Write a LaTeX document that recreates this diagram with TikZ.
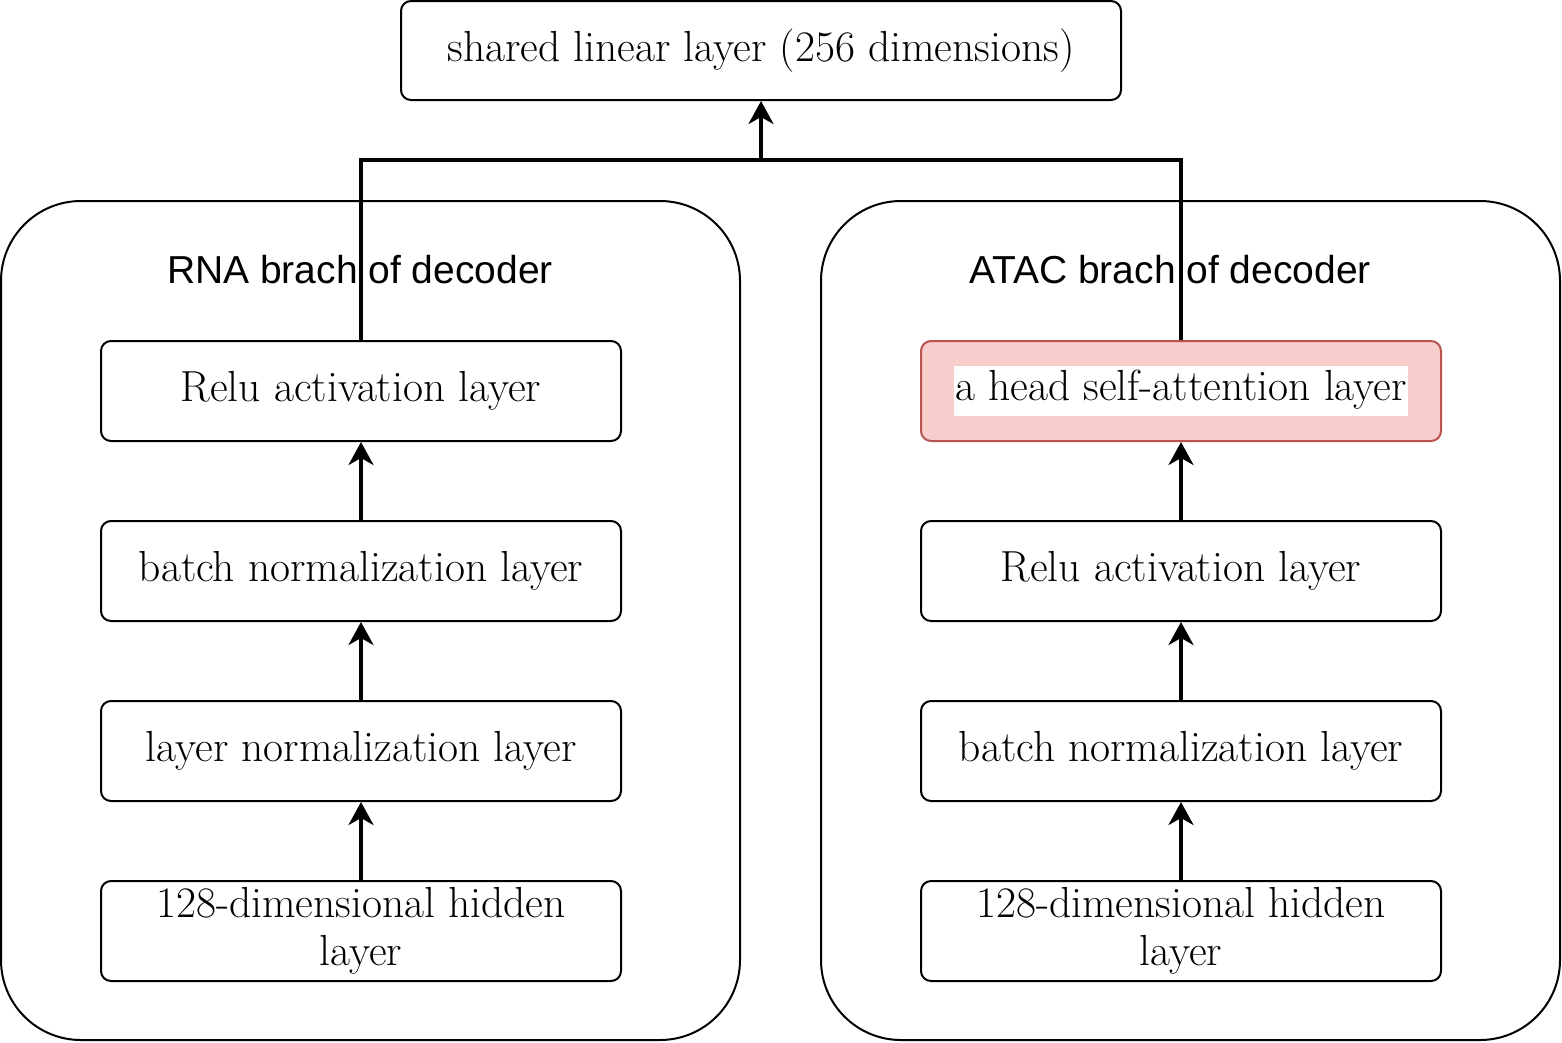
\documentclass[tikz,border=0pt]{standalone}
\usepackage{fontspec}
\setsansfont{Liberation Sans}
\usetikzlibrary{arrows.meta}
\definecolor{redfill}{HTML}{F8CECC}
\definecolor{redline}{HTML}{B85450}
\begin{document}
\begin{tikzpicture}[x=1pt,y=-1pt,
  layerbox/.style={draw, line width=2pt, rounded corners=10pt, minimum width=520pt, minimum height=100pt, inner sep=0pt, align=center, font=\fontsize{43.5}{48}\selectfont},
  container/.style={draw, line width=2pt, rounded corners=80pt, minimum width=739pt, minimum height=839pt, inner sep=0pt},
  branchlabel/.style={font=\sffamily\fontsize{39}{44}\selectfont, inner sep=0pt},
  conn/.style={line width=3.5pt},
  tip/.style={-{Stealth[length=23pt, width=25pt, inset=7pt]}}
]
\useasboundingbox (0,0) rectangle (1562,1042);
% containers
\node[container] (lc) at (370.5,620.5) {};
\node[container] (rc) at (1190.5,620.5) {};
\node[branchlabel] (ll) at (360,270) {RNA brach of decoder};
\node[branchlabel] (rl) at (1170,270) {ATAC brach of decoder};
% top
\node[layerbox, minimum width=720pt, minimum height=99pt] (top) at (761,50.5) {shared linear layer (256 dimensions)};
% left
\node[layerbox] (r4) at (361,391) {Relu activation layer};
\node[layerbox] (r3) at (361,571) {batch normalization layer};
\node[layerbox] (r2) at (361,751) {layer normalization layer};
\node[layerbox] (r1) at (361,931) {128-dimensional hidden\\layer};
% right
\node[layerbox, fill=redfill, draw=redline] (a4) at (1181,391) {\setlength{\fboxsep}{1pt}\colorbox{white}{\strut a head self-attention layer}};
\node[layerbox] (a3) at (1181,571) {Relu activation layer};
\node[layerbox] (a2) at (1181,751) {batch normalization layer};
\node[layerbox] (a1) at (1181,931) {128-dimensional hidden\\layer};
% connectors
\draw[conn, tip] (r1) -- (r2);
\draw[conn, tip] (r2) -- (r3);
\draw[conn, tip] (r3) -- (r4);
\draw[conn, tip] (a1) -- (a2);
\draw[conn, tip] (a2) -- (a3);
\draw[conn, tip] (a3) -- (a4);
\coordinate (j) at (761,160);
\draw[conn] (a4.north) |- (j);
\draw[conn] (r4.north) |- (j);
\draw[conn, tip] (j) -- (top.south);
\end{tikzpicture}
\end{document}
